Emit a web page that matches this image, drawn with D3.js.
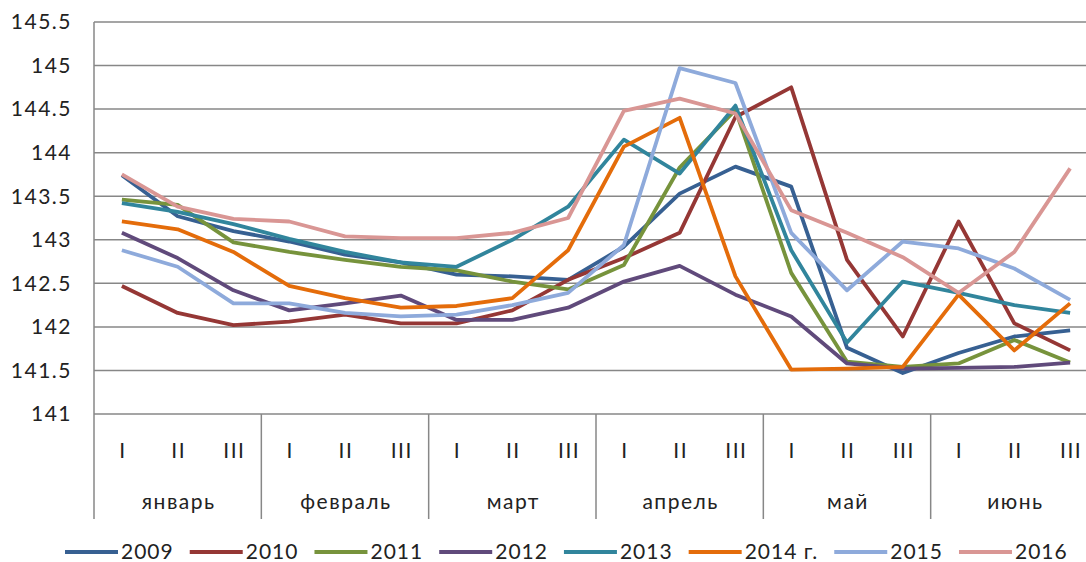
<!DOCTYPE html>
<html lang="ru">
<head>
    <meta charset="UTF-8">
    <title>Chart</title>
    <script src="https://cdn.jsdelivr.net/npm/d3@7"></script>
    <style>
        body { margin: 0; background: #fff; }
        text { font-family: Lato, "Open Sans", sans-serif; fill: #222; font-size: 21px; letter-spacing: 1.5px; }
    </style>
</head>
<body>
<div id="chart"></div>

<script>
    // decades and months
    var decades = ["I", "II", "III"];
    var months = ["январь", "февраль", "март", "апрель", "май", "июнь"];
    var yTicks = [141, 141.5, 142, 142.5, 143, 143.5, 144, 144.5, 145, 145.5];
    var seriesNames = ["2009", "2010", "2011", "2012", "2013", "2014 г.", "2015", "2016"];
    var colors = ["#376092", "#953735", "#77933c", "#604a7b", "#31859c", "#e46c0a", "#8eaadb", "#d99694"];

    // values per decade (январь I ... июнь III)
    var v2009 = [143.74, 143.27, 143.10, 142.98, 142.83, 142.74, 142.60, 142.58, 142.54, 142.92, 143.53, 143.84, 143.61, 141.76, 141.47, 141.70, 141.89, 141.96];
    var v2010 = [142.47, 142.16, 142.02, 142.06, 142.14, 142.04, 142.04, 142.19, 142.54, 142.79, 143.08, 144.41, 144.75, 142.77, 141.89, 143.21, 142.04, 141.73];
    var v2011 = [143.46, 143.40, 142.97, 142.86, 142.77, 142.69, 142.65, 142.52, 142.43, 142.71, 143.83, 144.49, 142.62, 141.60, 141.54, 141.58, 141.85, 141.59];
    var v2012 = [143.08, 142.79, 142.42, 142.19, 142.27, 142.36, 142.08, 142.08, 142.22, 142.52, 142.70, 142.37, 142.12, 141.58, 141.52, 141.53, 141.54, 141.59];
    var v2013 = [143.42, 143.32, 143.18, 143.01, 142.86, 142.74, 142.69, 143.00, 143.38, 144.15, 143.76, 144.54, 142.88, 141.82, 142.52, 142.39, 142.25, 142.16];
    var v2014 = [143.21, 143.12, 142.86, 142.47, 142.33, 142.22, 142.24, 142.33, 142.88, 144.07, 144.40, 142.58, 141.51, 141.52, 141.54, 142.37, 141.73, 142.27];
    var v2015 = [142.88, 142.69, 142.27, 142.27, 142.16, 142.12, 142.14, 142.25, 142.39, 142.94, 144.97, 144.80, 143.08, 142.42, 142.98, 142.90, 142.67, 142.31];
    var v2016 = [143.75, 143.38, 143.24, 143.21, 143.04, 143.02, 143.02, 143.08, 143.25, 144.48, 144.62, 144.45, 143.34, 143.08, 142.80, 142.39, 142.86, 143.82];
    var allValues = [v2009, v2010, v2011, v2012, v2013, v2014, v2015, v2016];

    var width = 1086, height = 562;
    var margin = {top: 22, left: 94, bottom: 414, right: 1098};

    var svg = d3.select("#chart")
        .append("svg")
        .attr("width", width)
        .attr("height", height);

    // one category per decade
    var cats = [];
    months.forEach(function(m, mi) {
        decades.forEach(function(d, di) { cats.push(mi * 3 + di); });
    });

    var x = d3.scaleBand()
        .domain(cats)
        .range([margin.left, margin.right]);

    var y = d3.scaleLinear()
        .domain([141, 145.5])
        .range([margin.bottom, margin.top]);

    // gridlines
    svg.append("g")
        .selectAll("line")
        .data(yTicks)
        .enter().append("line")
        .attr("x1", margin.left)
        .attr("x2", margin.right)
        .attr("y1", function(d) { return y(d); })
        .attr("y2", function(d) { return y(d); })
        .attr("stroke", "#878787")
        .attr("stroke-width", 1.5);

    // y axis line
    svg.append("line")
        .attr("x1", margin.left).attr("x2", margin.left)
        .attr("y1", margin.top).attr("y2", margin.bottom)
        .attr("stroke", "#878787")
        .attr("stroke-width", 1.5);

    // y labels
    svg.append("g")
        .selectAll("text")
        .data(yTicks)
        .enter().append("text")
        .attr("x", 72)
        .attr("y", function(d) { return y(d); })
        .attr("dy", "0.35em")
        .attr("text-anchor", "end")
        .text(function(d) { return d; });

    // month separators
    var seps = d3.range(months.length + 1).map(function(i) {
        return i < months.length ? x(i * 3) : margin.right;
    });
    svg.append("g")
        .selectAll("line")
        .data(seps)
        .enter().append("line")
        .attr("x1", function(d) { return d; })
        .attr("x2", function(d) { return d; })
        .attr("y1", margin.bottom)
        .attr("y2", 519)
        .attr("stroke", "#878787")
        .attr("stroke-width", 1.5);

    // decade labels
    svg.append("g")
        .selectAll("text")
        .data(cats)
        .enter().append("text")
        .attr("x", function(d) { return x(d) + x.bandwidth() / 2 + 1; })
        .attr("y", 451)
        .attr("dy", "0.35em")
        .attr("text-anchor", "middle")
        .text(function(d) { return decades[d % 3]; });

    // month labels
    svg.append("g")
        .selectAll("text")
        .data(months)
        .enter().append("text")
        .attr("x", function(d, i) { return x(i * 3) + x.bandwidth() * 1.5 + 1; })
        .attr("y", 502)
        .attr("dy", "0.35em")
        .attr("text-anchor", "middle")
        .text(function(d) { return d; });

    // series lines
    var line = d3.line()
        .x(function(d, i) { return x(i) + x.bandwidth() / 2; })
        .y(function(d) { return y(d); });

    svg.append("g")
        .selectAll("path")
        .data(allValues)
        .enter().append("path")
        .attr("d", function(d) { return line(d); })
        .attr("fill", "none")
        .attr("stroke", function(d, i) { return colors[i]; })
        .attr("stroke-width", 3.8)
        .attr("stroke-linejoin", "round");

    // legend
    var legend = svg.append("g");
    var lx = 65;
    seriesNames.forEach(function(name, i) {
        legend.append("line")
            .attr("x1", lx).attr("x2", lx + 53)
            .attr("y1", 552).attr("y2", 552)
            .attr("stroke", colors[i])
            .attr("stroke-width", 4);
        var t = legend.append("text")
            .attr("x", lx + 56)
            .attr("y", 552)
            .attr("dy", "0.35em")
            .style("letter-spacing", "1px")
            .text(name);
        lx += 56 + t.node().getComputedTextLength() + 16;
    });
</script>
</body>
</html>
